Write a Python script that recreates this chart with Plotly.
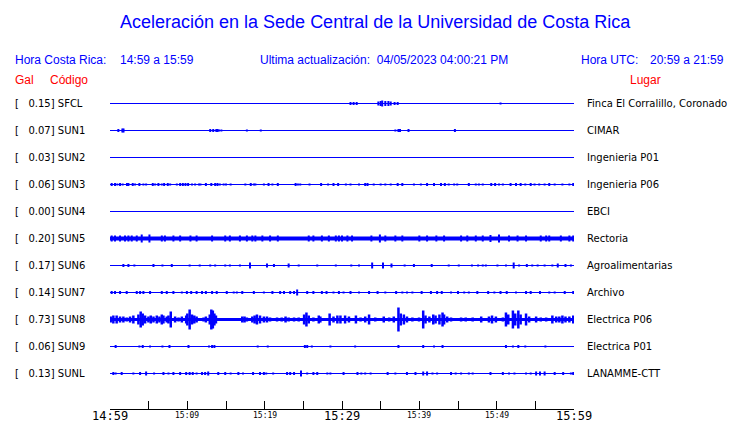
import plotly.graph_objects as go

# ---------------- data ----------------
codes = ["SFCL", "SUN1", "SUN2", "SUN3", "SUN4", "SUN5", "SUN6", "SUN7", "SUN8", "SUN9", "SUNL"]
gal = [0.15, 0.07, 0.03, 0.06, 0.00, 0.20, 0.17, 0.14, 0.73, 0.06, 0.13]
places = ["Finca El Corralillo, Coronado", "CIMAR", "Ingenieria P01", "Ingenieria P06", "EBCI",
          "Rectoria", "Agroalimentarias", "Archivo", "Electrica P06", "Electrica P01", "LANAMME-CTT"]

# bursts: (minutes after 14:59, relative amplitude)
sfcl = [(31.1, 1.5), (31.5, 1.5), (31.9, 1.5), (34.7, 2), (35.0, 2.5), (35.2, 3), (35.6, 2.5),
        (36.0, 2.5), (36.3, 2), (36.8, 1.5), (37.2, 1.5), (50.5, 1)]
sun1 = [(1.08, 1.5), (1.6, 2), (1.75, 2), (12.96, 1.5), (13.35, 1.5), (13.75, 1.5), (13.9, 1.5),
        (14.1, 1), (14.4, 1), (17.7, 1), (19.5, 1), (36.9, 1), (37.3, 1.5), (37.5, 1.5), (38.6, 1.5), (44.6, 1.5)]
sun2 = []
sun3 = [(0.22, 1.5), (0.65, 1.5), (0.95, 1), (1.30, 1.5), (1.64, 1), (2.2, 1.5), (2.38, 1.5), (2.94, 1.5),
        (3.24, 1), (3.80, 1.5), (4.32, 1), (4.67, 1), (5.53, 1.5), (5.83, 1), (6.26, 1.5), (6.70, 1),
        (7.0, 1.5), (7.47, 1.5), (7.78, 1), (8.64, 1), (9.07, 1.5), (9.42, 1.5), (9.76, 1.5), (10.1, 1.5),
        (10.6, 1), (11.0, 1), (11.5, 1), (11.7, 1), (12.4, 1.5), (13.1, 1.5), (13.6, 1.5), (13.9, 1.5),
        (14.2, 1), (14.7, 1), (15.0, 1), (15.6, 1), (17.5, 1), (18.2, 1.5), (18.6, 1), (18.8, 1),
        (19.9, 1), (20.5, 1.5), (21.0, 1), (21.7, 1.5), (24.0, 1.5), (24.3, 1), (24.6, 1), (25.8, 1),
        (27.3, 1.5), (28.2, 1), (28.9, 1.5), (29.5, 1.5), (30.5, 1), (31.1, 1), (32.2, 1), (33.0, 1.5),
        (33.3, 1.5), (34.1, 1), (35.0, 1), (35.6, 1), (36.3, 1), (37.2, 1.5), (37.8, 1.5), (39.3, 1),
        (40.2, 1), (41.0, 1.5), (41.9, 1.5), (42.8, 1.5), (43.3, 1.5), (43.8, 1), (44.5, 1), (44.9, 1),
        (46.4, 1.5), (47.3, 1), (47.7, 1), (48.2, 1), (49.3, 1.5), (49.8, 1.5), (50.3, 1), (50.8, 1),
        (51.8, 1.5), (52.5, 1.5), (53.1, 1.5), (53.7, 1), (54.4, 1.5), (54.9, 1), (55.5, 1), (56.2, 1),
        (56.8, 1.5), (57.5, 1), (58.5, 1), (59.4, 1), (59.9, 1.5)]
sun4 = []
sun5 = [(0.22, 3), (0.65, 3), (1.3, 3), (1.94, 3), (2.38, 3), (2.81, 3), (3.46, 3), (4.1, 4),
        (5.1, 4), (6.7, 3), (7.1, 3), (8.2, 3), (9.07, 3), (10.4, 3), (11.2, 3), (13.2, 3),
        (14.9, 3), (15.5, 3), (16.8, 3), (17.7, 3), (18.4, 3), (18.8, 3), (19.7, 3), (20.7, 3),
        (21.7, 3), (25.7, 3), (26.3, 3), (27.4, 3), (28.3, 3), (29.2, 3), (29.6, 3), (30.0, 3),
        (30.7, 3), (31.3, 3), (33.8, 3), (34.9, 4), (35.6, 3), (36.9, 3), (37.8, 3), (40.0, 3),
        (41.0, 3), (42.2, 3), (43.2, 3), (45.4, 3), (46.2, 3), (47.3, 3), (48.2, 3), (49.2, 3.5),
        (50.3, 4), (51.6, 3), (52.7, 3), (53.8, 3), (55.7, 3), (56.4, 3), (56.8, 3), (58.3, 3),
        (59.4, 3), (59.9, 3)]
sun6 = [(1.73, 1.5), (2.38, 1.5), (3.15, 1), (5.62, 1.5), (6.78, 1), (7.99, 1.5), (10.3, 1),
        (11.6, 1), (12.96, 1), (13.6, 1), (14.9, 1), (15.5, 1), (16.8, 1), (18.1, 3), (20.3, 2),
        (21.2, 1.5), (23.1, 2), (24.4, 1), (26.8, 1), (29.2, 1), (31.2, 1), (32.2, 1), (33.9, 3),
        (35.3, 3), (36.4, 2), (38.1, 1), (39.3, 1.5), (41.6, 1.5), (43.8, 1), (45.1, 1), (46.8, 1),
        (47.6, 1), (48.2, 1), (48.6, 1), (50.1, 1), (51.2, 1), (52.2, 3), (52.9, 1), (53.9, 1.5),
        (54.6, 1), (55.3, 1), (56.2, 1), (57.2, 1), (57.9, 2), (58.9, 1.5), (59.6, 1)]
sun7 = [(0.22, 1.5), (0.65, 1.5), (1.3, 1.5), (2.16, 1.5), (3.46, 1.5), (3.89, 1.5), (4.32, 1.5),
        (5.18, 1.5), (6.7, 1.5), (7.34, 1.5), (8.2, 1.5), (9.29, 1), (9.94, 1.5), (10.5, 1.5),
        (11.2, 1.5), (11.9, 1.5), (12.4, 1.5), (13.2, 1.5), (13.8, 1.5), (15.1, 1.5), (16.0, 1),
        (16.4, 1), (17.1, 1.5), (18.6, 1.5), (19.9, 1), (21.0, 1.5), (22.0, 1.5), (22.5, 1.5),
        (23.3, 1.5), (23.8, 1.5), (24.2, 3), (25.5, 1.5), (26.3, 1.5), (27.4, 1.5), (28.0, 1.5),
        (28.9, 1), (29.6, 1.5), (30.2, 1), (31.1, 1.5), (32.2, 1), (33.5, 1.5), (34.6, 1.5),
        (35.6, 1), (37.0, 1.5), (37.8, 1), (38.4, 1), (39.1, 1), (40.3, 1.5), (41.5, 1.5),
        (42.3, 1.5), (42.9, 1.5), (44.1, 1), (45.0, 1.5), (45.8, 1), (46.4, 1), (47.5, 1.5),
        (48.9, 1.5), (49.7, 1), (50.5, 1.5), (51.3, 1.5), (52.5, 1), (53.8, 1.5), (54.4, 1.5),
        (55.6, 1.5), (56.8, 1), (57.5, 1), (58.8, 1.5), (59.9, 1.5)]
sun8 = [(0.09, 3), (0.43, 4), (0.86, 4), (1.3, 3), (1.73, 3), (2.16, 2), (2.59, 3), (3.02, 4),
        (3.67, 5), (3.97, 8), (4.23, 6), (4.54, 4), (4.97, 3), (5.27, 4), (5.62, 3), (6.05, 4),
        (6.39, 3), (6.70, 5), (6.91, 4), (7.34, 3), (7.56, 4), (7.86, 8), (8.42, 3), (8.86, 2),
        (9.29, 3), (9.85, 4), (10.0, 6), (10.3, 10), (10.6, 5), (10.9, 4), (11.2, 3), (12.1, 2),
        (12.4, 3), (12.9, 5), (13.1, 10), (13.3, 9), (13.5, 6), (13.7, 4), (17.1, 3), (17.4, 3),
        (17.7, 2), (18.4, 3), (18.7, 4), (19.0, 5), (19.4, 4), (19.9, 3), (20.3, 3), (20.7, 2),
        (21.6, 2), (22.2, 2), (22.7, 3), (23.1, 2), (23.8, 2), (24.4, 2), (25.1, 5), (25.4, 7),
        (25.7, 4), (26.3, 2), (27.0, 4), (27.2, 3), (28.4, 6), (28.9, 3), (29.4, 4), (29.8, 4),
        (30.4, 4), (30.9, 3), (31.8, 4), (32.4, 2), (33.0, 3), (33.5, 5), (34.3, 2), (35.4, 3),
        (36.1, 2), (36.7, 3), (37.3, 12), (37.6, 6), (38.0, 5), (38.4, 3), (39.1, 2), (39.96, 2),
        (40.5, 9), (40.8, 4), (41.3, 3), (41.8, 5), (42.1, 4), (42.6, 5), (43.0, 7), (43.2, 5),
        (43.6, 3), (44.1, 2), (45.4, 2), (46.0, 2), (46.9, 2), (48.0, 3), (49.0, 3), (49.4, 4),
        (49.9, 3), (50.8, 2), (51.2, 7), (51.5, 5), (52.1, 9), (52.4, 6), (52.8, 9), (53.1, 5),
        (53.8, 6), (54.2, 3), (55.1, 3), (55.7, 2), (56.4, 2), (57.2, 4), (57.7, 3), (58.1, 3),
        (58.5, 4), (58.9, 3), (59.4, 3), (59.9, 4)]
sun9 = [(0.73, 1.5), (3.80, 1), (4.23, 1.5), (5.18, 1), (6.78, 1), (7.69, 1.5), (10.15, 1.5),
        (12.8, 1), (13.2, 1.5), (13.5, 1.5), (19.1, 1), (20.4, 1), (25.2, 1.5), (25.5, 1.5),
        (26.1, 1), (28.5, 1), (31.7, 1), (37.3, 1.5), (40.5, 1.5), (41.9, 1), (43.0, 1.5),
        (51.2, 1.5), (52.1, 1), (52.8, 1.5), (53.7, 1), (56.3, 1)]
sunl = [(0.43, 1.5), (0.73, 1), (1.51, 1.5), (3.02, 1), (3.89, 1.5), (4.67, 2), (5.7, 1),
        (6.91, 1.5), (7.56, 1), (8.2, 1.5), (9.07, 1.5), (9.85, 1.5), (10.3, 1.5), (10.7, 1.5),
        (11.2, 1), (11.9, 1.5), (12.3, 1.5), (12.7, 2), (14.0, 1.5), (14.9, 1.5), (15.6, 1),
        (16.6, 1.5), (17.2, 1), (18.5, 1.5), (19.4, 1.5), (19.9, 1.5), (20.2, 1), (21.1, 1),
        (22.9, 1.5), (23.3, 1.5), (23.8, 1.5), (24.7, 3), (25.5, 1), (26.3, 1.5), (26.8, 1.5),
        (28.1, 1), (28.5, 1), (30.2, 1.5), (32.0, 1.5), (32.5, 1), (33.0, 1), (33.7, 1),
        (35.9, 1.5), (36.9, 1), (38.4, 1.5), (39.5, 1.5), (40.5, 2), (41.0, 2), (41.7, 1),
        (42.3, 1), (44.1, 1.5), (44.7, 1), (45.4, 1), (46.4, 1), (46.9, 1), (49.2, 1.5),
        (50.8, 1.5), (51.6, 1), (52.3, 1), (53.8, 1), (54.4, 1), (55.1, 2), (55.6, 2),
        (56.2, 2), (57.5, 1.5), (58.6, 1.5), (59.6, 1), (59.9, 1.5)]

station_bursts = [sfcl, sun1, sun2, sun3, sun4, sun5, sun6, sun7, sun8, sun9, sunl]

major_ticks = [0, 30, 60]
major_labels = ["14:59", "15:29", "15:59"]
minor_label_ticks = [10, 20, 40, 50]
minor_labels = ["15:09", "15:19", "15:39", "15:49"]
all_ticks = [0, 5, 10, 15, 20, 25, 30, 35, 40, 45, 50, 55, 60]

title_text = "Aceleración en la Sede Central de la Universidad de Costa Rica"
update_text = "Ultima actualización:\u00a0\u00a004/05/2023 04:00:21 PM"

# ---------------- layout helpers ----------------
W, H = 740, 423
PL, PR, PT, PB = 110, 574, 90, 409       # plot area in pixels
ROW0, ROWSTEP = 103.5, 27               # pixel y of first row, spacing
BLUE = "#0000ff"
RED = "#ff0000"


def px(x):
    return (x - PL) / (PR - PL)


def py(y):
    return (PB - y) / (PB - PT)


amp_scale = 1.0 / ROWSTEP   # relative amplitude -> row units
base_width = {5: 4, 8: 3}
burst_width = {8: 2.5}

fig = go.Figure()
for i, bursts in enumerate(station_bursts):
    fig.add_trace(go.Scatter(x=[0, 60], y=[i, i], mode="lines",
                             line=dict(color=BLUE, width=base_width.get(i, 1)),
                             hoverinfo="skip", showlegend=False))
    if bursts:
        xs, ys = [], []
        for t, a in bursts:
            xs += [t, t, None]
            ys += [i - a * amp_scale, i + a * amp_scale, None]
        fig.add_trace(go.Scatter(x=xs, y=ys, mode="lines",
                                 line=dict(color=BLUE, width=burst_width.get(i, 2)),
                                 hoverinfo="skip", showlegend=False))

ann = []
HF = "Liberation Sans, Arial, sans-serif"
SF = "DejaVu Sans, sans-serif"
MF = "DejaVu Sans Mono, monospace"

ann.append(dict(text=title_text, x=px(375), y=py(22), xanchor="center", yanchor="middle",
                font=dict(family=HF, size=18, color=BLUE)))
ann.append(dict(text="Hora Costa Rica:", x=px(14), y=py(60), xanchor="left", yanchor="middle",
                font=dict(family=HF, size=12, color=BLUE)))
ann.append(dict(text="14:59 a 15:59", x=px(119), y=py(60), xanchor="left", yanchor="middle",
                font=dict(family=HF, size=12, color=BLUE)))
ann.append(dict(text=update_text, x=px(259), y=py(60), xanchor="left", yanchor="middle",
                font=dict(family=HF, size=12, color=BLUE)))
ann.append(dict(text="Hora UTC:", x=px(580), y=py(60), xanchor="left", yanchor="middle",
                font=dict(family=HF, size=12, color=BLUE)))
ann.append(dict(text="20:59 a 21:59", x=px(649), y=py(60), xanchor="left", yanchor="middle",
                font=dict(family=HF, size=12, color=BLUE)))
ann.append(dict(text="Gal", x=px(14), y=py(80), xanchor="left", yanchor="middle",
                font=dict(family=HF, size=12, color=RED)))
ann.append(dict(text="Código", x=px(49), y=py(80), xanchor="left", yanchor="middle",
                font=dict(family=HF, size=12, color=RED)))
ann.append(dict(text="Lugar", x=px(629), y=py(80), xanchor="left", yanchor="middle",
                font=dict(family=HF, size=12, color=RED)))

for i, (c, g, p) in enumerate(zip(codes, gal, places)):
    yrow = ROW0 + ROWSTEP * i
    ann.append(dict(text="[\u00a0\u00a0\u00a0%.2f] %s" % (g, c), x=px(14), y=py(yrow),
                    xanchor="left", yanchor="middle", font=dict(family=SF, size=10, color="black")))
    ann.append(dict(text=p, x=px(586), y=py(yrow), xanchor="left", yanchor="middle",
                    font=dict(family=SF, size=10, color="black")))

for t, lab in zip(major_ticks, major_labels):
    ann.append(dict(text=lab, x=t, xref="x", y=py(416), xanchor="center", yanchor="middle",
                    font=dict(family=MF, size=12, color="black")))
for t, lab in zip(minor_label_ticks, minor_labels):
    ann.append(dict(text=lab, x=t, xref="x", y=py(415), xanchor="center", yanchor="middle",
                    font=dict(family=MF, size=8, color="black")))

for a in ann:
    a.setdefault("xref", "paper")
    a["yref"] = "paper"
    a["showarrow"] = False
    a["borderpad"] = 0

y_top = (PT - ROW0) / ROWSTEP
y_bot = (PB - ROW0) / ROWSTEP

fig.update_layout(
    width=W, height=H,
    margin=dict(l=PL, r=W - PR, t=PT, b=H - PB, pad=0),
    paper_bgcolor="white", plot_bgcolor="white",
    showlegend=False,
    annotations=ann,
    xaxis=dict(range=[0, 60], tickvals=all_ticks, ticks="inside", ticklen=8, tickwidth=1,
               tickcolor="black", showline=True, linecolor="black", linewidth=1,
               showticklabels=False, showgrid=False, zeroline=False, fixedrange=True),
    yaxis=dict(range=[y_bot, y_top], visible=False, showgrid=False, zeroline=False, fixedrange=True),
)

fig.write_html("out.html", config={"displayModeBar": False},
               post_script="document.body.style.margin='0';document.body.style.padding='0';")
